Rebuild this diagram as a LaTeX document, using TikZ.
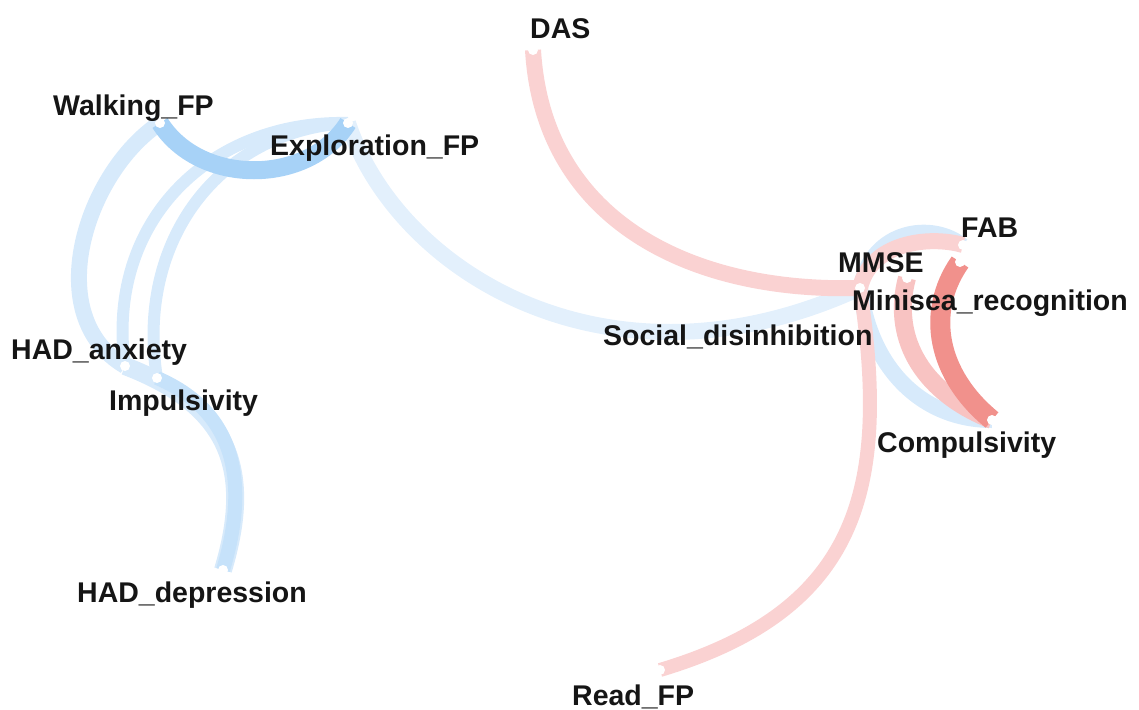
\documentclass[tikz,border=0pt]{standalone}
\usepackage{fontspec}
\setmainfont{Liberation Sans}

\definecolor{bluestrong}{HTML}{A7D2F7}
\definecolor{bluemid}{HTML}{C6E2FA}
\definecolor{bluelight}{HTML}{D7EAFB}
\definecolor{bluefaint}{HTML}{E3F0FC}
\definecolor{redstrong}{HTML}{F1918C}
\definecolor{redmid}{HTML}{F8C3C2}
\definecolor{redlight}{HTML}{FAD2D2}
\definecolor{labelcol}{HTML}{151515}

\tikzset{
  lbl/.style={font=\bfseries\fontsize{28.5}{30}\selectfont, text=labelcol, anchor=base west, inner sep=0pt},
  edge/.style={line width=#1pt},
}

\begin{document}
\begin{tikzpicture}[x=1pt,y=-1pt]

    \useasboundingbox (0,0) rectangle (1139,709);

    % Define the points where the edges meet
    \coordinate (DAS) at (533,50);
    \coordinate (W) at (160,123);
    \coordinate (E) at (348,123);
    \coordinate (HA) at (125,366);
    \coordinate (I) at (157,378);
    \coordinate (HD) at (223,570);
    \coordinate (SD) at (860,288);
    \coordinate (MM) at (907,278);
    \coordinate (FAB) at (963,245);
    \coordinate (MR) at (960,262);
    \coordinate (C) at (992,420);
    \coordinate (RF) at (660,670);

    % Draw the light blue edges
    \draw[bluefaint, edge=16] (E) .. controls +(50,150) and +(-250,115) .. (SD);
    \draw[bluelight, edge=16] (W) .. controls +(-75,50) and +(-85,-50) .. (HA);
    \draw[bluelight, edge=12] (E) .. controls +(-138,-3) and +(-20,-145) .. (HA);
    \draw[bluelight, edge=12] (E) .. controls +(-128,7) and +(-22,-138) .. (I);
    \draw[bluelight, edge=18] (HA) .. controls +(105,40) and +(30,-100) .. (HD);
    \draw[bluemid, edge=14] (I) .. controls +(70,30) and +(30,-100) .. (HD);
    \draw[bluelight, edge=16] (SD) .. controls +(10,80) and +(-70,0) .. (C);
    \draw[bluelight, edge=14] (SD) .. controls +(10,-60) and +(-30,-25) .. (FAB);

    % Draw the strong blue edge
    \draw[bluestrong, edge=18] (W) .. controls +(40,63) and +(-40,63) .. (E);

    % Draw the red edges
    \draw[redlight, edge=16] (DAS) .. controls +(10,170) and +(-170,5) .. (SD);
    \draw[redlight, edge=14] (RF) .. controls +(200,-60) and +(30,200) .. (SD);
    \draw[redlight, edge=16] (SD) .. controls +(10,-45) and +(-35,-10) .. (FAB);
    \draw[redmid, edge=18] (MM) .. controls +(-15,55) and +(-75,-30) .. (C);
    \draw[redstrong, edge=20] (MR) .. controls +(-35,50) and +(-55,-45) .. (C);

    % Draw the small white circles at the points
    \foreach \p in {DAS,W,E,HA,I,HD,SD,MM,FAB,MR,C,RF}
        \fill[white] (\p) circle (5);

    % Add the labels
    \node[lbl] (tDAS) at (530,38) {DAS};
    \node[lbl] (tW) at (53,115) {Walking\_FP};
    \node[lbl] (tE) at (270,155) {Exploration\_FP};
    \node[lbl] (tHA) at (11,359) {HAD\_anxiety};
    \node[lbl] (tI) at (109,410) {Impulsivity};
    \node[lbl] (tHD) at (77,602) {HAD\_depression};
    \node[lbl] (tSD) at (603,345) {Social\_disinhibition};
    \node[lbl] (tMM) at (838,272) {MMSE};
    \node[lbl] (tFAB) at (961,237) {FAB};
    \node[lbl] (tMR) at (852,310) {Minisea\_recognition};
    \node[lbl] (tC) at (877,452) {Compulsivity};
    \node[lbl] (tRF) at (572,705) {Read\_FP};

\end{tikzpicture}
\end{document}
